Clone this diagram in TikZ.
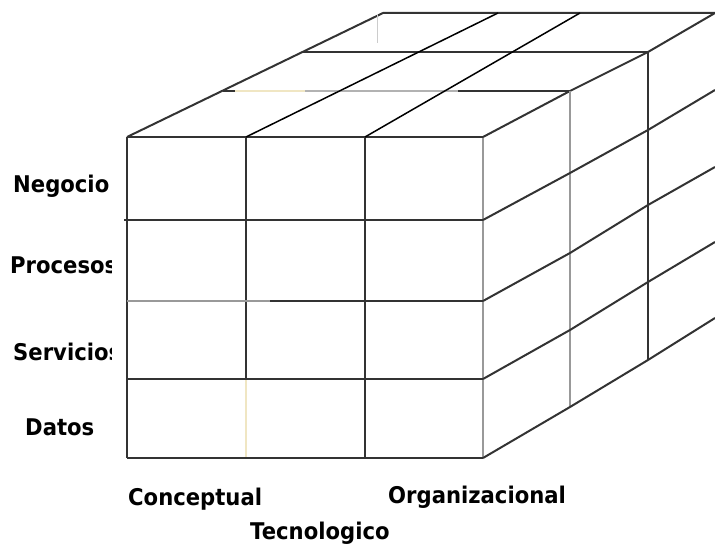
\documentclass[tikz,border=0pt]{standalone}
\usepackage{fontspec}
\newfontfamily\labelfont[FakeStretch=0.92]{DejaVu Sans}
\usepackage{tikz}

\tikzset{
  cubeline/.style={draw=black!80, line width=2pt},
  paleline/.style={draw=black!40, line width=2pt},
  creamline/.style={draw={rgb,255:red,240;green,230;blue,195}, line width=2pt},
  dimlabel/.style={inner sep=0pt, anchor=base west, font=\labelfont\bfseries\fontsize{23}{27}\selectfont}
}

\begin{document}
\begin{tikzpicture}[x=1pt, y=-1pt]
\useasboundingbox (0,0) rectangle (715,545);
% labels of the rows, cut at the right like in the picture
\begin{scope}
\clip (0,150) rectangle (111,460);
\node[dimlabel] (Negocio) at (13,193) {Negocio};
\node[dimlabel] (Procesos) at (10,274) {Procesos};
\node[dimlabel] (Servicios) at (13,360) {Servicios};
\node[dimlabel] (Datos) at (25,435) {Datos};
\end{scope}
\node[dimlabel] (Conceptual) at (128,505) {Conceptual};
\node[dimlabel] (Organizacional) at (388,503) {Organizacional};
\node[dimlabel] (Tecnologico) at (250,539) {Tecnologico};
% front face
\draw[cubeline] (127,137) -- (127,458);
\draw[cubeline] (246,137) -- (246,379);
\draw[creamline] (246,379) -- (246,458);
\draw[cubeline] (365,137) -- (365,458);
\draw[paleline] (483,137) -- (483,458);
\draw[cubeline] (127,137) -- (483,137);
\draw[cubeline] (124,220) -- (483,220);
\draw[paleline] (127,301) -- (270,301);
\draw[cubeline] (270,301) -- (483,301);
\draw[cubeline] (127,379) -- (483,379);
\draw[cubeline] (127,458) -- (483,458);
% top face
\draw[cubeline] (127,137) -- (383,13) -- (715,13);
\draw[draw=black!20, line width=1pt] (377,14) -- (377,43);
\draw[cubeline] (303,52) -- (648,52);
\draw[cubeline] (223,91) -- (235,91);
\draw[creamline] (235,91) -- (305,91);
\draw[draw=black!30, line width=2pt] (305,91) -- (458,91);
\draw[cubeline] (458,91) -- (570,91);
\draw[draw=black, line width=1.5pt] (246,137) -- (498,13);
\draw[draw=black, line width=1.5pt] (365,137) -- (580,13);
\draw[cubeline] (483,137) -- (570,91) -- (648,52) -- (715,13);
% side face
\draw[paleline] (570,91) -- (570,407);
\draw[cubeline] (648,52) -- (648,360);
\draw[cubeline] (483,220) -- (570,173) -- (648,130) -- (715,90);
\draw[cubeline] (483,301) -- (570,253) -- (648,205) -- (715,167);
\draw[cubeline] (483,379) -- (570,330) -- (648,282) -- (715,242);
\draw[cubeline] (483,458) -- (570,407) -- (648,360) -- (715,318);
\end{tikzpicture}
\end{document}
